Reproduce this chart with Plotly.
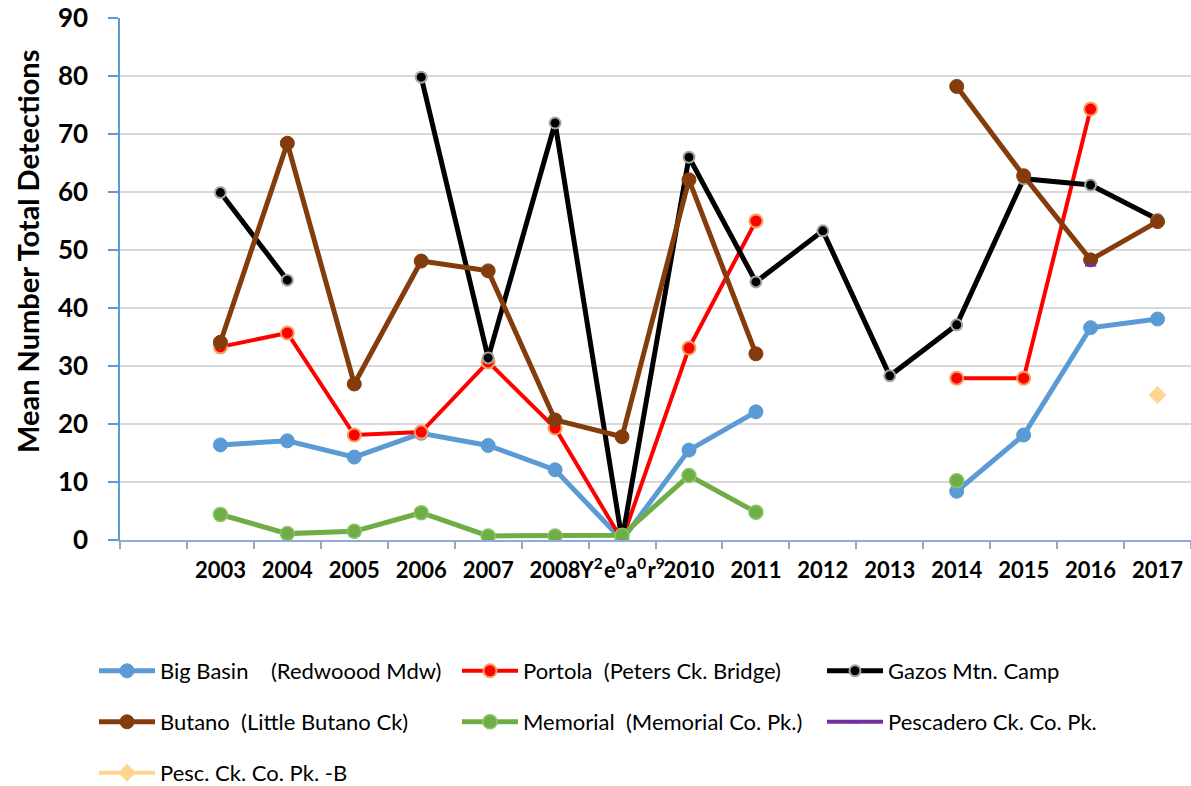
import plotly.graph_objects as go

years = [2003, 2004, 2005, 2006, 2007, 2008, 2009, 2010, 2011, 2012, 2013, 2014, 2015, 2016, 2017]
label_2009 = "Y<sup>2</sup>\u200ae<sup>0</sup>\u200aa<sup>0</sup>\u200ar<sup>9</sup>"
tick_labels = ["2003", "2004", "2005", "2006", "2007", "2008", label_2009,
               "2010", "2011", "2012", "2013", "2014", "2015", "2016", "2017"]

big_basin = [16.4, 17.1, 14.3, 18.4, 16.3, 12.1, 0.0, 15.5, 22.1, None, None, 8.4, 18.1, 36.6, 38.1]
portola = [33.3, 35.7, 18.1, 18.6, 30.7, 19.3, 0.0, 33.1, 55.0, None, None, 27.9, 27.9, 74.3, None]
gazos = [59.9, 44.8, None, 79.8, 31.4, 71.9, 0.0, 66.0, 44.5, 53.3, 28.3, 37.1, 62.3, 61.2, 55.3]
butano = [34.1, 68.4, 26.9, 48.1, 46.4, 20.7, 17.8, 62.1, 32.1, None, None, 78.2, 62.8, 48.3, 54.9]
memorial = [4.4, 1.1, 1.5, 4.7, 0.7, 0.7, 0.8, 11.1, 4.8, None, None, 10.2, None, None, None]
pescadero = [None, None, None, None, None, None, None, None, None, None, None, None, None, 47.4, None]
pesc_b = [None, None, None, None, None, None, None, None, None, None, None, None, None, None, 25.0]

series_names = [
    "Big Basin\u00a0\u00a0\u00a0\u00a0(Redwoood Mdw)",
    "Portola\u00a0\u00a0(Peters Ck. Bridge)",
    "Gazos Mtn. Camp",
    "Butano\u00a0\u00a0(Little Butano Ck)",
    "Memorial\u00a0\u00a0(Memorial Co. Pk.)",
    "Pescadero Ck. Co. Pk.",
    "Pesc. Ck. Co. Pk. -B",
]
y_title = "Mean Number Total Detections"

FONT = "Lato"
fig = go.Figure()

def add(y, name, lcolor, mcolor, mline, mlw, msize, symbol="circle", lw=5, legend="legend"):
    fig.add_trace(go.Scatter(
        x=years, y=y, name=name, mode="lines+markers", connectgaps=False,
        line=dict(color=lcolor, width=lw),
        marker=dict(color=mcolor, size=msize, symbol=symbol, line=dict(color=mline, width=mlw)),
        legend=legend, showlegend=True,
    ))

add(big_basin, series_names[0], "#5B9BD5", "#5B9BD5", "#5B9BD5", 1, 14, legend="legend")
add(portola, series_names[1], "#FF0000", "#FF0000", "#F5A05A", 2, 13, lw=4, legend="legend2")
add(gazos, series_names[2], "#000000", "#000000", "#A6A6A6", 2, 11, lw=5, legend="legend3")
add(butano, series_names[3], "#843C0C", "#843C0C", "#843C0C", 1, 14, legend="legend4")
add(memorial, series_names[4], "#70AD47", "#70AD47", "#8CC46A", 1.5, 14, legend="legend5")
add(pescadero, series_names[5], "#7030A0", "#7030A0", "#7030A0", 3, 8, symbol="line-ew", lw=4, legend="legend6")
add(pesc_b, series_names[6], "#FFD58F", "#FFD58F", "#FFD58F", 1, 13, symbol="diamond", lw=4, legend="legend7")

W, H = 1191, 786
def leg(xpx, ypx):
    return dict(x=xpx / W, y=1 - ypx / H, xref="container", yref="container",
                xanchor="left", yanchor="middle", orientation="h",
                font=dict(family=FONT, size=22, color="#000000"),
                bgcolor="rgba(0,0,0,0)", itemwidth=56, borderwidth=0)

ic = 94
fig.update_layout(
    width=W, height=H,
    showlegend=True,
    margin=dict(l=120, r=0, t=18, b=246),
    paper_bgcolor="white", plot_bgcolor="white",
    font=dict(family=FONT, color="#000000"),
    xaxis=dict(
        range=[2001.5, 2017.5], tickmode="array", tickvals=years, ticktext=tick_labels,
        ticks="", showgrid=False, zeroline=False, automargin=False, tickangle=0,
        showline=True, linecolor="#8FAADC", linewidth=1.5,
        tickfont=dict(family=FONT, size=22, color="#000000", weight="bold"),
        ticklabelstandoff=10,
        minor=dict(tickmode="array", tickvals=[y - 0.5 for y in range(2002, 2019)],
                   ticks="outside", ticklen=7, tickcolor="#A6A6A6", tickwidth=1.5, showgrid=False),
    ),
    yaxis=dict(
        range=[0, 90], dtick=10, tick0=0, automargin=False,
        showgrid=True, gridcolor="#D9D9D9", gridwidth=1.5, zeroline=False,
        showline=True, linecolor="#5B9BD5", linewidth=1.5,
        ticks="outside", ticklen=10, tickcolor="#5B9BD5", tickwidth=1.5,
        tickfont=dict(family=FONT, size=26, color="#000000", weight="bold"),
        ticklabelstandoff=15,
    ),
    annotations=[dict(
        text=y_title, textangle=-90, xref="paper", yref="paper",
        x=-93 / 1071, y=(540 - 252) / 522, xanchor="center", yanchor="middle", showarrow=False,
        font=dict(family=FONT, size=29, color="#000000", weight="bold"),
    )],
    legend=leg(ic, 671),
    legend2=leg(ic + 363, 671),
    legend3=leg(ic + 728, 671),
    legend4=leg(ic, 722),
    legend5=leg(ic + 363, 722),
    legend6=leg(ic + 728, 722),
    legend7=leg(ic, 773),
)

fig.write_html("out.html", config={"displayModeBar": False},
               post_script="document.body.style.margin='0px';document.body.style.padding='0px';")
